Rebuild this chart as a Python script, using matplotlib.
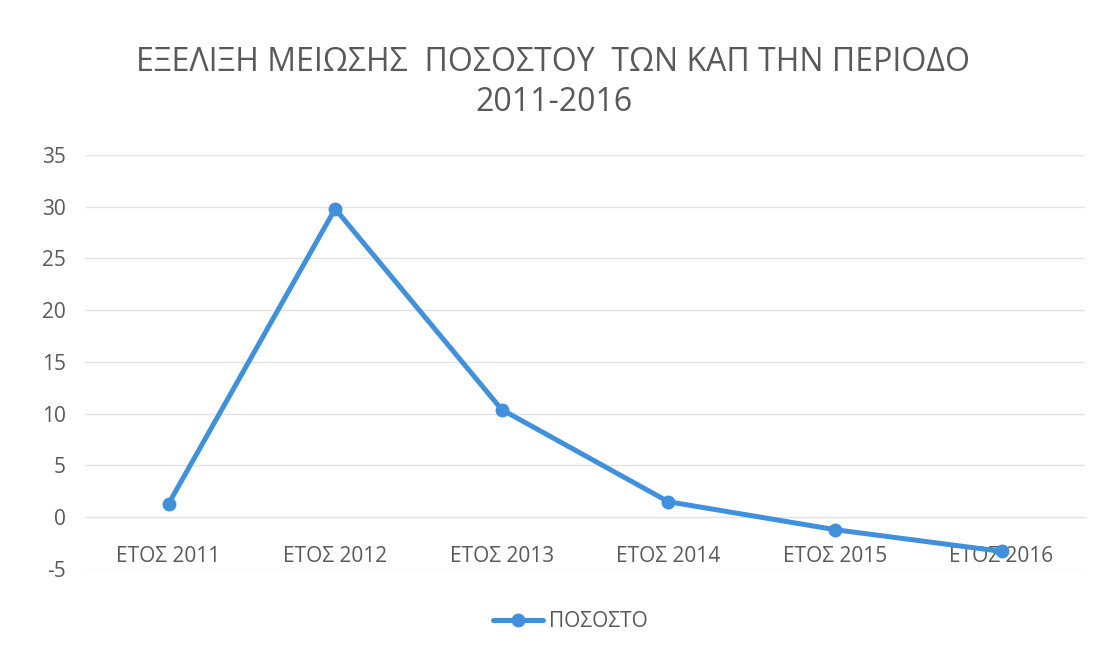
import matplotlib
matplotlib.use("Agg")
import matplotlib.pyplot as plt

# Δεδομένα
eti = ["ΕΤΟΣ 2011", "ΕΤΟΣ 2012", "ΕΤΟΣ 2013", "ΕΤΟΣ 2014", "ΕΤΟΣ 2015", "ΕΤΟΣ 2016"]
pososto = [1.3, 29.8, 10.4, 1.5, -1.2, -3.3]
y_ticks = [-5, 0, 5, 10, 15, 20, 25, 30, 35]

plt.rcParams['font.family'] = ['Open Sans', 'DejaVu Sans']
gri = '#595959'
mple = '#4190DC'

fig = plt.figure(figsize=(11.07, 6.54), dpi=100)
ax = fig.add_axes([0.077, 0.130, 0.903, 0.633])

x = list(range(len(eti)))
ax.plot(x, pososto, color=mple, linewidth=3.6, marker='o', markersize=9,
        solid_capstyle='round', label='ΠΟΣΟΣΤΟ', zorder=3)

ax.set_xlim(-0.5, len(eti) - 0.5)
ax.set_ylim(-5, 35)
ax.set_yticks(y_ticks)
ax.set_yticklabels([str(v) for v in y_ticks])
ax.set_xticks(x)
ax.set_xticklabels(eti)

ax.grid(axis='y', color='#e3e3e3', linewidth=1)
ax.set_axisbelow(True)
for s in ['top', 'right', 'left']:
    ax.spines[s].set_visible(False)
ax.spines['bottom'].set_position(('data', 0))
ax.spines['bottom'].set_color('#e3e3e3')

ax.tick_params(axis='x', length=0, pad=21, labelsize=15, labelcolor=gri)
ax.tick_params(axis='y', length=0, pad=14, labelsize=15, labelcolor=gri)

fig.text(0.5, 0.905, "ΕΞΕΛΙΞΗ ΜΕΙΩΣΗΣ  ΠΟΣΟΣΤΟΥ  ΤΩΝ ΚΑΠ ΤΗΝ ΠΕΡΙΟΔΟ",
         ha='center', va='center', fontsize=23, color=gri)
fig.text(0.5, 0.843, "2011-2016", ha='center', va='center', fontsize=23, color=gri)

fig.legend(loc='center', bbox_to_anchor=(0.515, 0.05), frameon=False,
           fontsize=15, labelcolor=gri, handlelength=2.4, handletextpad=0.3)

fig.savefig("out.png", dpi=100, facecolor='white')
